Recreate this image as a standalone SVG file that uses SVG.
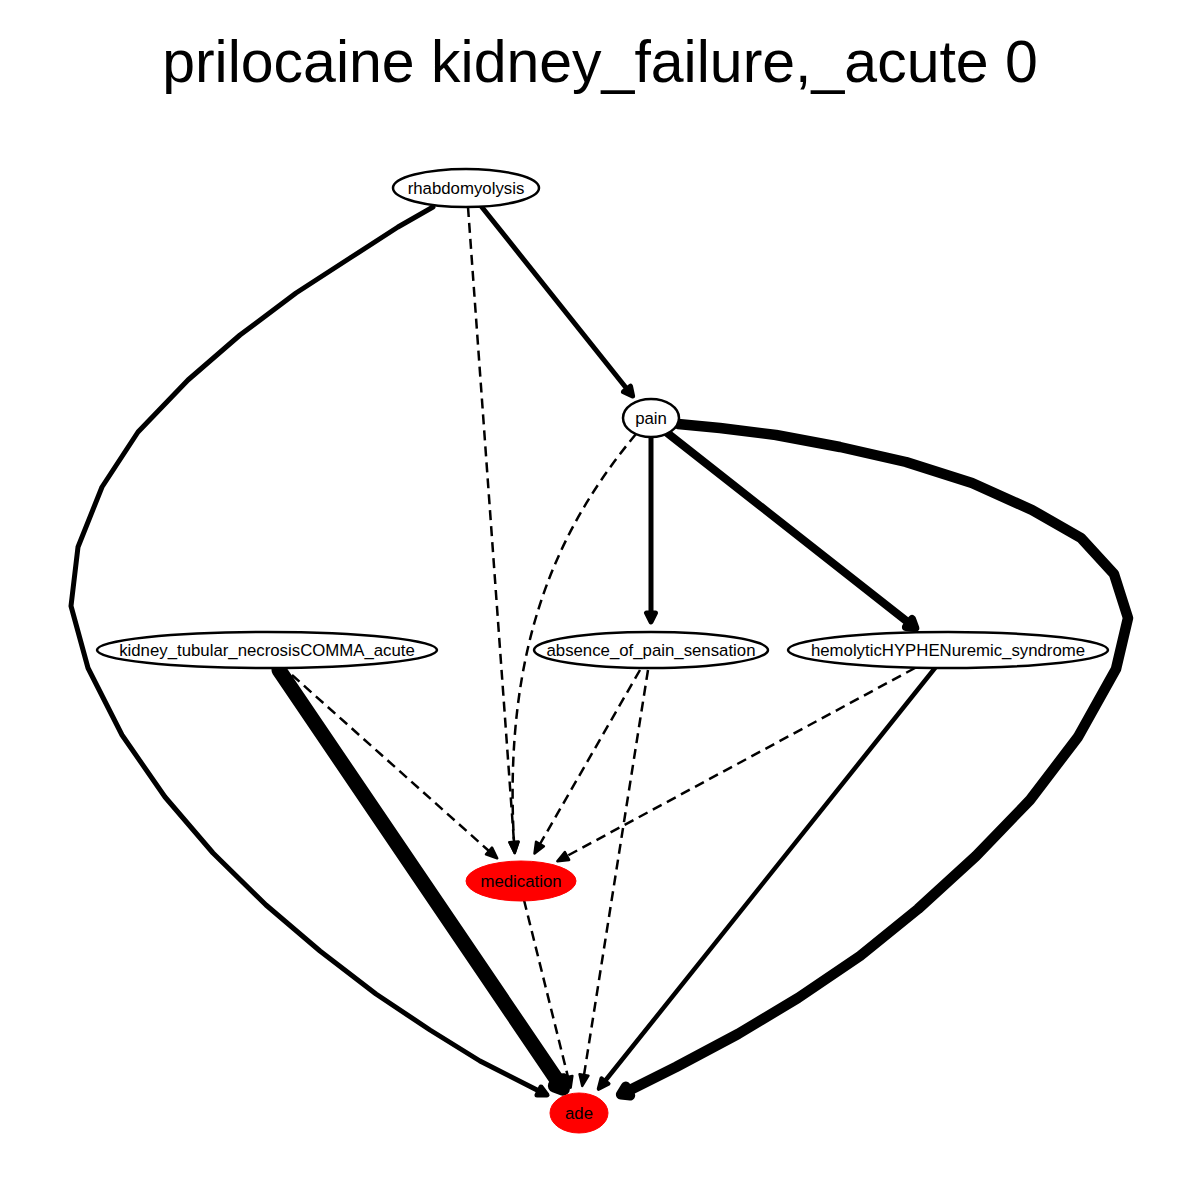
<svg xmlns="http://www.w3.org/2000/svg" width="1200" height="1200" viewBox="0 0 1200 1200">
<style>
.title{font-family:"Liberation Sans",Arial,sans-serif;font-size:59px;text-anchor:middle;fill:#000}
.lbl{font-family:"Liberation Sans",Arial,sans-serif;font-size:16.8px;text-anchor:middle;fill:#000}
.node{fill:#fff;stroke:#000;stroke-width:2.5}
.hot{fill:#ff0000;stroke:#ff0000;stroke-width:1}
.e{fill:none;stroke:#000;stroke-linejoin:round;stroke-linecap:round}
.d{fill:none;stroke:#000;stroke-width:2.5;stroke-dasharray:10,6}
</style>
<defs>
<marker id="a2" markerUnits="userSpaceOnUse" orient="auto" refX="0" refY="0" markerWidth="20" markerHeight="20" overflow="visible"><polygon points="0,-4.5 11,0 0,4.5" fill="#000" stroke="#000" stroke-width="2.5" stroke-linejoin="round"/></marker>
<marker id="a4" markerUnits="userSpaceOnUse" orient="auto" refX="0" refY="0" markerWidth="20" markerHeight="20" overflow="visible"><polygon points="0,-4.5 10,0 0,4.5" fill="#000" stroke="#000" stroke-width="4" stroke-linejoin="round"/></marker>
<marker id="a5" markerUnits="userSpaceOnUse" orient="auto" refX="0" refY="0" markerWidth="20" markerHeight="20" overflow="visible"><polygon points="0,-4.5 9,0 0,4.5" fill="#000" stroke="#000" stroke-width="5" stroke-linejoin="round"/></marker>
<marker id="a8" markerUnits="userSpaceOnUse" orient="auto" refX="0" refY="0" markerWidth="20" markerHeight="20" overflow="visible"><polygon points="0,-5 8,0 0,5" fill="#000" stroke="#000" stroke-width="8" stroke-linejoin="round"/></marker>
<marker id="a10" markerUnits="userSpaceOnUse" orient="auto" refX="0" refY="0" markerWidth="20" markerHeight="20" overflow="visible"><polygon points="0,-5 8,0 0,5" fill="#000" stroke="#000" stroke-width="10" stroke-linejoin="round"/></marker>
<marker id="a14" markerUnits="userSpaceOnUse" orient="auto" refX="0" refY="0" markerWidth="20" markerHeight="20" overflow="visible"><polygon points="0,-5 7,0 0,5" fill="#000" stroke="#000" stroke-width="14" stroke-linejoin="round"/></marker>
</defs>
<rect width="1200" height="1200" fill="#fff"/>
<text class="title" x="600" y="82">prilocaine kidney_failure,_acute 0</text>
<g id="edges">
<path class="e" stroke-width="5" marker-end="url(#a5)" d="M433,207 L398,227 350,258 296,293 240,335 188,380 138,432 102,487 78,547 71,606 88,668 122,735 165,797 213,853 266,905 320,951 376,994 430,1030 480,1061 539,1091"/>
<path class="d" marker-end="url(#a2)" d="M468,207 L514,842"/>
<path class="e" stroke-width="5" marker-end="url(#a5)" d="M481,206 L627,389"/>
<path class="d" marker-end="url(#a2)" d="M636,434 C558,528 503,645 514,842"/>
<path class="e" stroke-width="5" marker-end="url(#a5)" d="M651,437 L651,613"/>
<path class="e" stroke-width="8" marker-end="url(#a8)" d="M666,432 L909,623"/>
<path class="e" stroke-width="10.5" marker-end="url(#a10)" d="M678,424 L720,428 776,435 840,447 906,462 972,483 1032,510 1081,538 1114,574 1128,618 1116,669 1078,737 1030,800 976,856 918,909 860,956 798,998 738,1034 676,1067 628,1091"/>
<path class="e" stroke-width="15" marker-end="url(#a14)" d="M279,670 L559,1083"/>
<path class="d" marker-end="url(#a2)" d="M292,675 L489,851"/>
<path class="d" marker-end="url(#a2)" d="M640,670 L540,844"/>
<path class="d" marker-end="url(#a2)" d="M648,670 L584,1075"/>
<path class="d" marker-end="url(#a2)" d="M915,668 L567,856"/>
<path class="e" stroke-width="4.5" marker-end="url(#a4)" d="M935,668 L605,1081"/>
<path class="d" marker-end="url(#a2)" d="M524,900 L568,1077"/>
</g>
<g id="rhabdomyolysis"><ellipse class="node" cx="466" cy="188" rx="73" ry="19"/><text class="lbl" x="466" y="194">rhabdomyolysis</text></g>
<g id="pain"><ellipse class="node" cx="651" cy="418" rx="28" ry="19"/><text class="lbl" x="651" y="424">pain</text></g>
<g id="kidney_tubular_necrosisCOMMA_acute"><ellipse class="node" cx="267" cy="650" rx="170" ry="18"/><text class="lbl" x="267" y="656">kidney_tubular_necrosisCOMMA_acute</text></g>
<g id="absence_of_pain_sensation"><ellipse class="node" cx="651" cy="650" rx="117" ry="18"/><text class="lbl" x="651" y="656">absence_of_pain_sensation</text></g>
<g id="hemolyticHYPHENuremic_syndrome"><ellipse class="node" cx="948" cy="650" rx="160" ry="18"/><text class="lbl" x="948" y="656">hemolyticHYPHENuremic_syndrome</text></g>
<g id="medication"><ellipse class="hot" cx="521" cy="881" rx="55" ry="20"/><text class="lbl" x="521" y="887">medication</text></g>
<g id="ade"><ellipse class="hot" cx="579" cy="1113" rx="29" ry="20"/><text class="lbl" x="579" y="1119">ade</text></g>
</svg>
